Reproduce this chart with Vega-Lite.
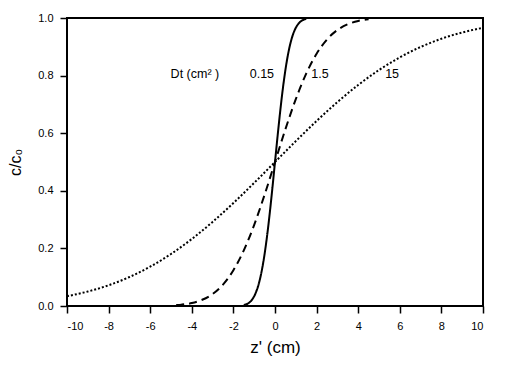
{
  "$schema": "https://vega.github.io/schema/vega-lite/v6.json",
  "width": 416,
  "height": 288,
  "autosize": {"type": "none"},
  "padding": {"left": 67, "top": 18, "right": 23, "bottom": 61},
  "background": "white",
  "config": {
    "font": "Liberation Sans",
    "view": {"stroke": "black", "strokeWidth": 2},
    "axis": {"grid": false, "domain": false, "tickColor": "black", "tickWidth": 1.5, "tickSize": 7, "labelColor": "black", "labelFontSize": 11, "titleColor": "black", "titleFontWeight": "normal"}
  },
  "datasets": {
    "curves": [
      {"s": "0.15", "z": -1.5, "c": 0.0032}, {"s": "0.15", "z": -1.375, "c": 0.006}, {"s": "0.15", "z": -1.25, "c": 0.0111}, {"s": "0.15", "z": -1.125, "c": 0.02}, {"s": "0.15", "z": -1.0, "c": 0.034}, {"s": "0.15", "z": -0.875, "c": 0.0551}, {"s": "0.15", "z": -0.75, "c": 0.0854}, {"s": "0.15", "z": -0.625, "c": 0.1269}, {"s": "0.15", "z": -0.5, "c": 0.1806}, {"s": "0.15", "z": -0.375, "c": 0.2467}, {"s": "0.15", "z": -0.25, "c": 0.324}, {"s": "0.15", "z": -0.125, "c": 0.4098}, {"s": "0.15", "z": 0, "c": 0.5}, {"s": "0.15", "z": 0.125, "c": 0.5902}, {"s": "0.15", "z": 0.25, "c": 0.676}, {"s": "0.15", "z": 0.375, "c": 0.7533}, {"s": "0.15", "z": 0.5, "c": 0.8194}, {"s": "0.15", "z": 0.625, "c": 0.8731}, {"s": "0.15", "z": 0.75, "c": 0.9146}, {"s": "0.15", "z": 0.875, "c": 0.9449}, {"s": "0.15", "z": 1.0, "c": 0.966}, {"s": "0.15", "z": 1.125, "c": 0.98}, {"s": "0.15", "z": 1.25, "c": 0.9889}, {"s": "0.15", "z": 1.375, "c": 0.994}, {"s": "0.15", "z": 1.5, "c": 0.9968},
      {"s": "1.5", "z": -4.75, "c": 0.0031}, {"s": "1.5", "z": -4.5, "c": 0.0047}, {"s": "1.5", "z": -4, "c": 0.0101}, {"s": "1.5", "z": -3.5, "c": 0.0216}, {"s": "1.5", "z": -3, "c": 0.0416}, {"s": "1.5", "z": -2.5, "c": 0.0744}, {"s": "1.5", "z": -2, "c": 0.1241}, {"s": "1.5", "z": -1.5, "c": 0.1933}, {"s": "1.5", "z": -1, "c": 0.2818}, {"s": "1.5", "z": -0.5, "c": 0.3864}, {"s": "1.5", "z": 0, "c": 0.5}, {"s": "1.5", "z": 0.5, "c": 0.6136}, {"s": "1.5", "z": 1, "c": 0.7182}, {"s": "1.5", "z": 1.5, "c": 0.8067}, {"s": "1.5", "z": 2, "c": 0.8759}, {"s": "1.5", "z": 2.5, "c": 0.9256}, {"s": "1.5", "z": 3, "c": 0.9584}, {"s": "1.5", "z": 3.5, "c": 0.9784}, {"s": "1.5", "z": 4, "c": 0.9899}, {"s": "1.5", "z": 4.5, "c": 0.9953},
      {"s": "15", "z": -10, "c": 0.034}, {"s": "15", "z": -9, "c": 0.0502}, {"s": "15", "z": -8, "c": 0.072}, {"s": "15", "z": -7, "c": 0.1006}, {"s": "15", "z": -6, "c": 0.1367}, {"s": "15", "z": -5, "c": 0.1806}, {"s": "15", "z": -4, "c": 0.2326}, {"s": "15", "z": -3, "c": 0.292}, {"s": "15", "z": -2, "c": 0.3575}, {"s": "15", "z": -1, "c": 0.4276}, {"s": "15", "z": 0, "c": 0.5}, {"s": "15", "z": 1, "c": 0.5724}, {"s": "15", "z": 2, "c": 0.6425}, {"s": "15", "z": 3, "c": 0.708}, {"s": "15", "z": 4, "c": 0.7674}, {"s": "15", "z": 5, "c": 0.8194}, {"s": "15", "z": 6, "c": 0.8633}, {"s": "15", "z": 7, "c": 0.8994}, {"s": "15", "z": 8, "c": 0.928}, {"s": "15", "z": 9, "c": 0.9498}, {"s": "15", "z": 10, "c": 0.966}
    ],
    "labels": [
      {"t": "Dt (cm² )", "z": -3.85, "c": 0.805},
      {"t": "0.15", "z": -0.63, "c": 0.805},
      {"t": "1.5", "z": 2.16, "c": 0.805},
      {"t": "15", "z": 5.63, "c": 0.805}
    ]
  },
  "layer": [
    {
      "data": {"name": "curves"},
      "mark": {"type": "line", "color": "black", "interpolate": "monotone", "clip": true},
      "encoding": {
        "x": {"field": "z", "type": "quantitative", "scale": {"domain": [-10, 10], "nice": false},
          "axis": {"values": [-10,-9,-8,-7,-6,-5,-4,-3,-2,-1,0,1,2,3,4,5,6,7,8,9,10], "labelExpr": "datum.value % 2 == 0 ? '' + datum.value : ''", "labelPadding": 7, "title": "z' (cm)", "titleFontSize": 17, "titlePadding": 8}},
        "y": {"field": "c", "type": "quantitative", "scale": {"domain": [0, 1], "nice": false},
          "axis": {"values": [0,0.1,0.2,0.3,0.4,0.5,0.6,0.7,0.8,0.9,1.0], "format": ".1f", "labelExpr": "round(datum.value*10) % 2 == 0 ? datum.label : ''", "labelPadding": 7, "title": "c/c₀", "titleFontSize": 16, "titlePadding": 14}},
        "detail": {"field": "s", "type": "nominal"},
        "strokeDash": {"field": "s", "type": "nominal", "scale": {"domain": ["0.15", "1.5", "15"], "range": [[1, 0], [8, 5], [2, 2]]}, "legend": null},
        "strokeWidth": {"field": "s", "type": "nominal", "scale": {"domain": ["0.15", "1.5", "15"], "range": [2, 2, 2.6]}, "legend": null}
      }
    },
    {
      "data": {"name": "labels"},
      "mark": {"type": "text", "fontSize": 12.5, "color": "black", "align": "center", "baseline": "middle"},
      "encoding": {
        "x": {"field": "z", "type": "quantitative"},
        "y": {"field": "c", "type": "quantitative"},
        "text": {"field": "t"}
      }
    }
  ]
}
